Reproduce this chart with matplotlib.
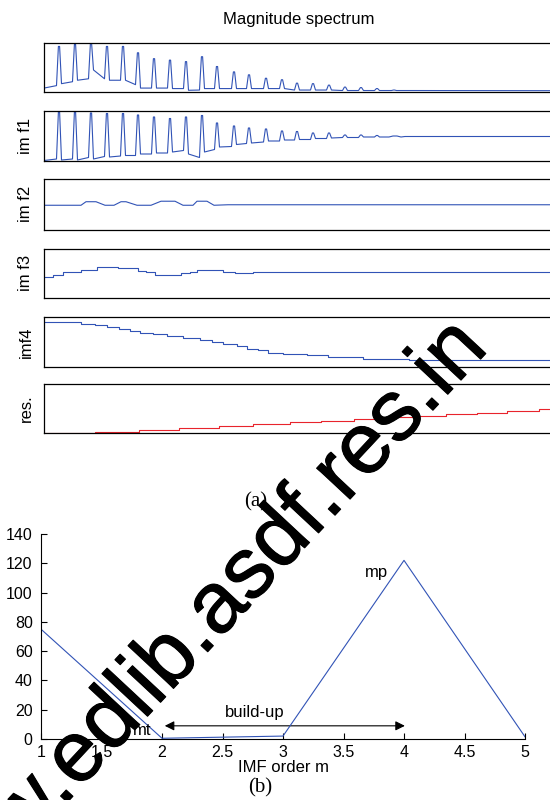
import matplotlib
matplotlib.use("Agg")
import matplotlib.pyplot as plt
import matplotlib.patheffects as pe
from matplotlib.patches import FancyArrowPatch

plt.rcParams['font.family'] = ['Liberation Sans', 'DejaVu Sans']

blue = '#3153b6'
red = '#e8242c'

# --- (a) top panels: values (0-100 = panel height) ---
# x is a bin index across the panel width (0..509)
spec_pos = [15, 31, 47, 63, 79, 94, 110, 126, 142, 158, 173, 190, 205, 222,
            238, 253, 269, 285, 301, 317, 333, 350, 366]
spec_top = [93, 97, 99, 93, 93, 80, 68, 65, 62, 72, 52, 41, 35, 28,
            25, 18, 17, 14, 10, 9, 7, 4, 3]
spec_before = [13, 21, 27, 27, 24, 15, 8, 8, 7, 4, 7, 7, 7, 7,
               7, 4, 4, 4, 3, 3, 3, 3, 3]
spec_after = [17, 24, 45, 24, 24, 8, 8, 7, 3.5, 7, 7, 7, 7, 7,
              7, 4, 4, 4, 3, 3, 3, 3, 3]

imf1_pos = spec_pos[:21]
imf1_top = [98, 98, 96, 95, 95, 92, 88, 85, 88, 91, 76, 70, 66, 64,
            60, 59, 56, 56, 52, 52, 51]
imf1_before = [4, 4, 7, 9, 10, 11, 14, 16, 21, 7, 23, 29, 35, 38,
               40, 42, 43, 45, 47, 47, 48]
imf1_after = [2, 2, 4, 8, 11, 14, 16, 18, 14, 18, 28, 33, 36, 40,
              42, 43, 45, 46, 47, 48, 48]
imf1_tail_x = [345, 349, 353, 357, 361, 509]
imf1_tail_y = [48, 50, 50, 48, 49, 49]

imf2_x = [0, 37, 42, 52, 61, 70, 77, 82, 93, 107, 117, 131, 139, 149,
          153, 163, 170, 184, 509]
imf2_y = [48, 48, 55, 55, 48, 48, 55, 55, 48, 48, 56, 56, 48, 48,
          56, 56, 48, 49, 49]

imf3_x = [0, 9, 19, 37, 53, 74, 94, 102, 111, 137, 146, 153, 179, 191, 209, 509]
imf3_y = [42, 46.7, 52, 56.7, 62, 60, 55.3, 52, 46.7, 50, 53.3, 56.7,
          53.3, 50, 53.3, 53.3]

imf4_x = [0, 37, 51, 63, 75, 86, 96, 109, 123, 139, 156, 168, 179, 193,
          203, 214, 224, 239, 263, 284, 319, 365, 509]
imf4_y = [90, 86.7, 83.3, 80, 76.7, 72, 68, 65.3, 61.3, 58.7, 54.7, 50,
          46.7, 41.3, 36.7, 33.3, 28.7, 26.7, 23.3, 20, 16.7, 14.7, 14.7]

res_x = [0, 51, 95, 135, 175, 209, 246, 277, 310, 344, 372, 402, 433,
         463, 495, 509]
res_y = [0.7, 2, 6.7, 10, 13.3, 18, 22, 25.3, 28, 32, 34.7, 38.7, 41.3,
         45.3, 48.7, 48.7]

# --- (b) ---
imf_order = [1, 2, 3, 4, 5]
energy = [75, 0.5, 2, 122, 1.5]


def spike_trace(pos, top, before, after, start, end, xmax=509):
    xs, ys = [0], [start]
    for p, t, b, a in zip(pos, top, before, after):
        xs += [p - 2.5, p - 0.6, p + 0.6, p + 2.5]
        ys += [b, t, t, a]
    xs.append(xmax)
    ys.append(end)
    return xs, ys


fig = plt.figure(figsize=(5.5, 8), dpi=100)

left = 44 / 550
width = 509 / 550
rows = [(43, 92), (111, 161), (179, 229.5), (248.5, 298), (317, 367), (384, 433)]
axs = []
for top_px, bot_px in rows:
    ax = fig.add_axes([left, 1 - bot_px / 800, width, (bot_px - top_px) / 800])
    ax.set_xlim(0, 509)
    ax.set_ylim(0, 100)
    ax.set_xticks([])
    ax.set_yticks([])
    for s in ax.spines.values():
        s.set_linewidth(0.9)
    axs.append(ax)

sx, sy = spike_trace(spec_pos, spec_top, spec_before, spec_after, 8, 2.7)
axs[0].plot(sx, sy, color=blue, lw=0.8)
axs[0].set_title('Magnitude spectrum', fontsize=12, pad=14)

ix, iy = spike_trace(imf1_pos, imf1_top, imf1_before, imf1_after, 1, 48, xmax=340)
axs[1].plot(ix + imf1_tail_x, iy + imf1_tail_y, color=blue, lw=0.8)
axs[2].plot(imf2_x, imf2_y, color=blue, lw=0.8)
axs[3].plot(imf3_x, imf3_y, color=blue, lw=0.8, drawstyle='steps-post')
axs[4].plot(imf4_x, imf4_y, color=blue, lw=0.8, drawstyle='steps-post')
axs[5].plot(res_x, res_y, color=red, lw=0.8, drawstyle='steps-post')

for ax, name in zip(axs[1:], ['im f1', 'im f2', 'im f3', 'imf4', 'res.']):
    ax.set_ylabel(name, fontsize=12, va='center')
    ax.yaxis.set_label_coords(-18 / 509, 0.5)

fig.text(256 / 550, 1 - 502 / 800, '(a)', family='Liberation Serif',
         fontsize=15, ha='center', va='center')

# --- bottom plot ---
bx = fig.add_axes([41 / 550, 1 - 739 / 800, 484 / 550, 205 / 800])
bx.plot(imf_order, energy, color=blue, lw=0.8)
bx.set_xlim(1, 5)
bx.set_ylim(0, 140)
bx.set_xticks([1, 1.5, 2, 2.5, 3, 3.5, 4, 4.5, 5])
bx.set_xticklabels(['1', '1.5', '2', '2.5', '3', '3.5', '4', '4.5', '5'])
bx.set_yticks(range(0, 141, 20))
bx.tick_params(direction='in', length=4, width=0.8, labelsize=11.5)
bx.tick_params(axis='x', pad=4)
bx.tick_params(axis='y', pad=6)
bx.spines['top'].set_visible(False)
bx.spines['right'].set_visible(False)
bx.set_xlabel('IMF order m', fontsize=12, labelpad=0)

bx.text(1.91, 6, 'mt', fontsize=12, ha='right', va='center')
bx.text(3.87, 114, 'mp', fontsize=12, ha='right', va='center')
bx.text(2.77, 18, 'build-up', fontsize=12, ha='center', va='center')
arr = FancyArrowPatch((2.0, 9), (4.03, 9), arrowstyle='<|-|>',
                      mutation_scale=14, color='black', lw=0.8)
bx.add_patch(arr)

fig.text(260 / 550, 1 - 788 / 800, '(b)', family='Liberation Serif',
         fontsize=15, ha='center', va='center')

# watermark
wm = fig.text(214 / 550, 1 - 645 / 800, 'www.edlib.asdf.res.in', fontsize=62,
              rotation=47, rotation_mode='anchor', ha='center', va='baseline',
              color='black', zorder=10)
wm.set_path_effects([pe.withStroke(linewidth=0.8, foreground='black')])

fig.savefig('out.png', dpi=100)
